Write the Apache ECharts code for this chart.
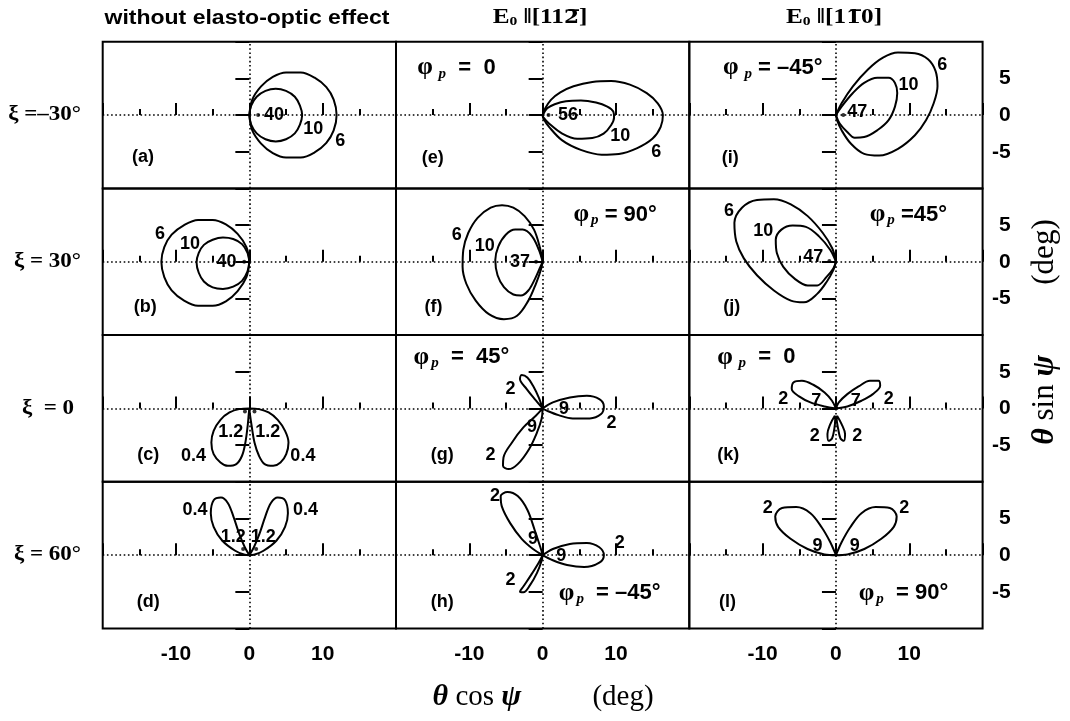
<!DOCTYPE html>
<html><head><meta charset="utf-8">
<script src="https://cdn.jsdelivr.net/npm/echarts@6/dist/echarts.min.js"></script>
<style>html,body{margin:0;padding:0;background:#fff}#c{width:1070px;height:721px}</style>
</head><body><div id="c"></div>
<script>
// ---------- texts ----------
const colHeaderPlain = 'without elasto-optic effect';
const rowLabels = ['ξ =–30°', 'ξ = 30°', 'ξ  = 0', 'ξ = 60°'];
const xTickValues = [-10, 0, 10];
const xTickText = ['-10', '0', '10'];
const yTickValues = [-5, 0, 5];
const yTickText = ['-5', '0', '5'];

// ---------- contour curves (data units, deg) ----------
const curveA6 = [[0,0],[0.4,2.1],[1.6,3.9],[3.2,5.2],[5.0,5.8],[7.0,5.8],[8.9,5.1],[10.5,3.8],[11.5,2.1],[11.9,0],[11.5,-2.1],[10.5,-3.8],[8.9,-5.1],[7.0,-5.8],[5.0,-5.8],[3.2,-5.2],[1.6,-3.9],[0.4,-2.1],[0,0]];
const curveA10 = [[0,0],[0.25,1.3],[1.0,2.5],[2.2,3.3],[3.6,3.6],[5.0,3.3],[6.2,2.5],[6.9,1.3],[7.2,0],[6.9,-1.3],[6.2,-2.5],[5.0,-3.3],[3.6,-3.6],[2.2,-3.3],[1.0,-2.5],[0.25,-1.3],[0,0]];
const curveB6 = [[0,0],[-0.4,2.0],[-1.6,3.8],[-3.2,5.1],[-5.0,5.7],[-7.0,5.7],[-8.9,5.0],[-10.6,3.7],[-11.6,2.0],[-12.0,0],[-11.6,-2.1],[-10.6,-3.9],[-8.9,-5.3],[-7.0,-6.0],[-5.0,-6.0],[-3.2,-5.4],[-1.6,-4.0],[-0.4,-2.1],[0,0]];
const curveB10 = [[0,0],[-0.25,1.2],[-1.0,2.4],[-2.2,3.1],[-3.6,3.3],[-5.0,3.0],[-6.2,2.3],[-6.9,1.2],[-7.2,-0.1],[-6.9,-1.5],[-6.2,-2.7],[-5.0,-3.5],[-3.6,-3.7],[-2.2,-3.4],[-1.0,-2.6],[-0.25,-1.3],[0,0]];
const curveC04L = [[0,0],[-1.39,-0.09],[-2.71,-0.55],[-3.94,-1.55],[-4.87,-3.05],[-5.18,-4.64],[-4.87,-6.23],[-3.94,-7.36],[-2.94,-7.82],[-1.78,-7.59],[-1.0,-6.45],[-0.54,-4.64],[-0.23,-2.36],[-0.08,-0.77],[0,0]];
const curveC04R = [[0,0],[1.31,-0.09],[2.63,-0.55],[3.87,-1.55],[4.87,-3.05],[5.34,-4.64],[5.03,-6.23],[4.25,-7.36],[3.25,-7.82],[2.09,-7.59],[1.31,-6.45],[0.7,-4.64],[0.31,-2.36],[0.08,-0.77],[0,0]];
const curveD04L = [[0,0],[-0.62,1.07],[-1.39,2.93],[-2.17,5.26],[-2.94,7.12],[-3.87,7.86],[-4.87,7.49],[-5.26,5.72],[-4.87,3.86],[-3.71,2.0],[-1.93,0.6],[-0.62,0.05],[0,0]];
const curveD04R = [[0,0],[0.62,1.07],[1.39,2.93],[2.17,5.26],[2.94,7.12],[3.87,7.86],[4.87,7.49],[5.26,5.72],[4.87,3.86],[3.71,2.0],[1.93,0.6],[0.62,0.05],[0,0]];
const curveE6 = [[0,0],[0.36,0.92],[1.13,2.07],[2.41,3.09],[4.21,3.92],[6.77,4.52],[9.33,4.65],[11.9,4.15],[14.2,3.0],[15.7,1.6],[16.4,0],[16.1,-1.6],[15.0,-3.2],[12.9,-4.5],[10.4,-5.3],[8.05,-5.4],[5.2,-4.75],[2.67,-3.46],[0.87,-1.6],[0.1,-0.46],[0,0]];
const curveE10 = [[0,0],[0.62,0.92],[1.64,1.47],[3.18,1.89],[5.23,1.98],[7.28,1.7],[8.82,1.15],[9.64,0.46],[9.74,-0.32],[9.33,-1.38],[8.31,-2.53],[6.77,-3.13],[4.72,-3.23],[2.67,-2.53],[0.87,-1.15],[0.1,-0.32],[0,0]];
const curveF6 = [[0,0],[-0.41,2.07],[-1.18,4.38],[-2.46,6.22],[-4.0,7.37],[-5.54,7.7],[-7.08,7.37],[-8.87,5.99],[-10.15,3.92],[-10.82,1.61],[-10.92,-0.69],[-10.41,-3.0],[-9.13,-5.3],[-7.33,-7.14],[-5.28,-7.83],[-3.49,-7.37],[-1.95,-5.3],[-0.92,-3.0],[-0.26,-1.15],[0,0]];
const curveF10 = [[0,0],[-0.51,1.61],[-1.44,3.46],[-2.72,4.38],[-3.74,4.38],[-5.03,3.69],[-6.05,2.07],[-6.46,0.23],[-6.15,-1.84],[-5.28,-3.46],[-4.0,-4.47],[-2.97,-4.61],[-1.95,-3.92],[-1.03,-2.3],[-0.41,-0.92],[0,0]];
const curveG2a = [[0,0],[-1.08,1.27],[-2.17,2.64],[-3.09,4.0],[-2.86,4.55],[-2.09,4.23],[-1.31,3.09],[-0.54,1.5],[0,0]];
const curveG2b = [[0,0],[1.39,0.82],[3.71,1.5],[6.03,1.73],[7.73,1.27],[8.35,0.27],[7.97,-0.77],[6.42,-1.36],[4.1,-1.36],[2.17,-0.91],[0.62,-0.32],[0,0]];
const curveG2c = [[0,0],[-0.93,-1.0],[-2.63,-2.59],[-4.18,-4.64],[-5.34,-6.68],[-5.41,-7.82],[-4.64,-8.27],[-3.4,-7.59],[-1.86,-5.55],[-0.77,-3.27],[-0.15,-1.45],[0,0]];
const curveH2a = [[0,0],[-1.31,0.84],[-2.86,2.23],[-4.41,4.33],[-5.57,6.65],[-5.72,8.05],[-4.8,8.6],[-3.4,8.05],[-2.09,6.19],[-1.08,3.4],[-0.31,1.07],[0,0]];
const curveH2b = [[0,0],[1.39,0.84],[3.71,1.53],[6.03,1.67],[7.73,1.07],[8.35,0],[7.73,-1.02],[5.65,-1.63],[3.33,-1.35],[1.39,-0.7],[0,0]];
const curveH2c = [[0,0],[-0.54,-1.02],[-1.55,-2.65],[-2.63,-4.28],[-3.09,-4.98],[-2.63,-5.07],[-1.7,-4.05],[-0.77,-2.42],[-0.15,-0.79],[0,0]];
const curveI6 = [[0,0],[0.77,1.61],[2.31,3.92],[4.36,6.22],[6.41,7.83],[8.46,8.53],[10.77,8.43],[12.56,7.6],[13.59,5.99],[13.85,3.92],[13.33,1.61],[12.3,-0.69],[10.77,-2.76],[8.46,-4.61],[5.9,-5.53],[3.85,-5.3],[2.05,-3.92],[0.77,-2.07],[0.15,-0.69],[0,0]];
const curveI10 = [[0,0],[0.77,1.15],[2.31,3.0],[3.85,4.38],[5.64,5.07],[7.18,5.07],[8.05,4.38],[8.36,3.0],[8.05,1.15],[7.18,-0.69],[5.64,-2.07],[3.85,-3.0],[2.56,-3.09],[1.54,-2.3],[0.51,-1.15],[0,0]];
const curveJ6 = [[0,0],[-0.51,1.84],[-1.79,3.92],[-3.85,6.22],[-6.15,7.83],[-8.46,8.53],[-10.77,8.43],[-12.82,7.37],[-13.85,5.3],[-13.59,2.76],[-12.56,0.46],[-10.77,-1.84],[-8.46,-3.92],[-6.15,-5.3],[-4.36,-5.53],[-2.56,-4.38],[-1.28,-2.76],[-0.36,-1.15],[0,0]];
const curveJ10 = [[0,0],[-0.77,1.61],[-2.31,3.46],[-4.1,4.75],[-5.9,4.93],[-7.44,4.38],[-8.21,3.0],[-8.05,1.15],[-7.18,-0.69],[-5.64,-2.3],[-3.85,-3.23],[-2.56,-3.23],[-1.28,-2.07],[-0.36,-0.92],[0,0]];
const curveK2a = [[0,0],[-1.55,0.27],[-3.48,0.82],[-5.03,1.64],[-6.03,2.64],[-5.8,3.55],[-4.64,3.77],[-3.09,3.23],[-1.55,2.18],[-0.54,1.05],[0,0]];
const curveK2b = [[0,0],[1.55,0.27],[3.48,1.05],[5.03,1.95],[6.03,3.09],[5.8,3.77],[4.64,3.77],[3.09,3.0],[1.55,1.95],[0.39,0.82],[0,0]];
const curveK2c = [[-0.15,-1.0],[-0.77,-2.14],[-1.16,-3.5],[-1.0,-4.41],[-0.54,-4.09],[-0.23,-2.82],[-0.1,-1.45],[-0.15,-1.0]];
const curveK2d = [[0.15,-1.0],[0.77,-2.14],[1.24,-3.5],[1.08,-4.41],[0.62,-4.09],[0.31,-2.82],[0.1,-1.45],[0.15,-1.0]];
const curveL2a = [[0,0],[-1.55,0.09],[-3.87,0.84],[-6.19,2.23],[-7.89,3.86],[-8.28,5.26],[-7.35,6.42],[-5.41,6.56],[-3.48,5.72],[-1.93,3.77],[-0.77,1.77],[-0.15,0.37],[0,0]];
const curveL2b = [[0,0],[1.55,0.09],[3.87,0.84],[6.19,2.23],[7.89,3.86],[8.28,5.26],[7.35,6.42],[5.41,6.56],[3.48,5.72],[1.93,3.77],[0.77,1.77],[0.15,0.37],[0,0]];

// ---------- maxima dots ----------
const dotsA = [[1.2,0]];
const dotsB = [[-0.7,0]];
const dotsC = [[-0.6,-0.4],[0.7,-0.4]];
const dotsD = [[-0.85,0.84],[0.93,0.84]];
const dotsE = [[0.8,0]];
const dotsF = [[-0.9,0]];
const dotsI = [[1.0,0]];
const dotsJ = [[-0.9,0.1]];

// ---------- contour value labels [x, y, text] ----------
const labelsA = [[3.35,0,'40'],[8.7,-1.9,'10'],[12.4,-3.5,'6'],[-14.5,-5.7,'(a)']];
const labelsB = [[-3.1,0,'40'],[-8.1,2.4,'10'],[-12.2,3.8,'6'],[-14.2,-6.2,'(b)']];
const labelsC = [[-2.55,-3.2,'1.2'],[2.5,-3.2,'1.2'],[-7.6,-6.45,'0.4'],[7.3,-6.45,'0.4'],[-13.8,-6.4,'(c)']];
const labelsD = [[-2.2,2.5,'1.2'],[1.9,2.5,'1.2'],[-7.4,6.2,'0.4'],[7.65,6.2,'0.4'],[-13.8,-6.4,'(d)']];
const labelsE = [[3.45,0,'56'],[10.6,-2.8,'10'],[15.5,-5.1,'6'],[-15.0,-5.8,'(e)']];
const labelsF = [[-3.1,-0.1,'37'],[-7.9,2.1,'10'],[-11.7,3.7,'6'],[-14.9,-6.2,'(f)']];
const labelsG = [[-4.4,2.7,'2'],[2.9,-0.1,'9'],[-1.45,-2.6,'9'],[9.4,-2.0,'2'],[-7.1,-6.4,'2'],[-13.7,-6.4,'(g)']];
const labelsH = [[-6.5,8.0,'2'],[-1.3,2.2,'9'],[2.55,-0.1,'9'],[10.5,1.7,'2'],[-4.4,-3.35,'2'],[-13.7,-6.4,'(h)']];
const labelsI = [[2.9,0.46,'47'],[9.9,4.15,'10'],[14.5,6.8,'6'],[-14.4,-5.8,'(i)']];
const labelsJ = [[-3.1,0.7,'47'],[-9.9,4.15,'10'],[-14.6,6.9,'6'],[-14.2,-6.2,'(j)']];
const labelsK = [[-7.2,1.27,'2'],[-2.7,1.05,'7'],[2.7,1.05,'7'],[7.2,1.27,'2'],[-2.9,-3.7,'2'],[2.9,-3.7,'2'],[-14.7,-6.4,'(k)']];
const labelsL = [[-9.3,6.4,'2'],[-2.5,1.3,'9'],[2.55,1.3,'9'],[9.3,6.4,'2'],[-14.8,-6.4,'(l)']];

// ---------- polarization angle annotations [x(left), y, subscript text, rest] ----------
const phiE = [-17.1, 6.45, ' p', '  =  0'];
const phiF = [4.2, 6.45, 'p', ' = 90°'];
const phiG = [-17.6, 7.0, 'p', '  =  45°'];
const phiH = [2.2, -5.2, 'p', '  = –45°'];
const phiI = [-15.4, 6.45, ' p', ' = –45°'];
const phiJ = [4.6, 6.45, 'p', ' =45°'];
const phiK = [-16.2, 7.0, ' p', '  =  0'];
const phiL = [3.1, -5.2, 'p', '  = 90°'];

// panels in column-major order (col, row)
const panels = [
  {curves:[curveA6, curveA10], dots:dotsA, labels:labelsA, phi:null},
  {curves:[curveB6, curveB10], dots:dotsB, labels:labelsB, phi:null},
  {curves:[curveC04L, curveC04R], dots:dotsC, labels:labelsC, phi:null},
  {curves:[curveD04L, curveD04R], dots:dotsD, labels:labelsD, phi:null},
  {curves:[curveE6, curveE10], dots:dotsE, labels:labelsE, phi:phiE},
  {curves:[curveF6, curveF10], dots:dotsF, labels:labelsF, phi:phiF},
  {curves:[curveG2a, curveG2b, curveG2c], dots:[], labels:labelsG, phi:phiG},
  {curves:[curveH2a, curveH2b, curveH2c], dots:[], labels:labelsH, phi:phiH},
  {curves:[curveI6, curveI10], dots:dotsI, labels:labelsI, phi:phiI},
  {curves:[curveJ6, curveJ10], dots:dotsJ, labels:labelsJ, phi:phiJ},
  {curves:[curveK2a, curveK2b, curveK2c, curveK2d], dots:[], labels:labelsK, phi:phiK},
  {curves:[curveL2a, curveL2b], dots:[], labels:labelsL, phi:phiL}
];

// ---------- layout ----------
const GL = [102.7, 396, 689.3], GT = [41.7, 188.4, 335.1, 481.8], GW = 293.3, GH = 146.7;
const SANS = 'Liberation Sans', SERIF = 'Liberation Serif';
const plain = {textBorderWidth: 0, textShadowBlur: 0, opacity: 1};

const grids = [], xAxes = [], yAxes = [], series = [];
panels.forEach((p, k) => {
  const col = Math.floor(k / 4), row = k % 4;
  grids.push({left: GL[col], top: GT[row], width: GW, height: GH, show: true,
    borderColor: '#000', borderWidth: 2, backgroundColor: 'transparent'});
  xAxes.push({gridIndex: k, type: 'value', min: -20, max: 20, interval: 10,
    axisLine: {show: false}, splitLine: {show: false},
    axisTick: {show: true, inside: true, length: 12, lineStyle: {color: '#000', width: 2}},
    minorTick: {show: true, splitNumber: 2, length: 6, lineStyle: {color: '#000', width: 2}},
    axisLabel: {show: row === 3, margin: 15, color: '#000', fontFamily: SANS, fontWeight: 'bold', fontSize: 21,
      formatter: v => { const i = xTickValues.indexOf(v); return i < 0 ? '' : xTickText[i]; }}
  });
  yAxes.push({gridIndex: k, type: 'value', position: 'right', min: -10, max: 10, interval: 5,
    axisLine: {show: false}, splitLine: {show: false},
    axisTick: {show: true, inside: true, length: 14, lineStyle: {color: '#000', width: 2}},
    axisLabel: {show: col === 2, margin: 28, align: 'right', color: '#000', fontFamily: SANS, fontWeight: 'bold', fontSize: 21,
      formatter: v => { const i = yTickValues.indexOf(v); return i < 0 ? '' : yTickText[i]; }}
  });
  p.curves.forEach((c, ci) => {
    const s = {type: 'line', xAxisIndex: k, yAxisIndex: k, data: c, smooth: 0.35, symbol: 'none',
      lineStyle: {color: '#000', width: 2}, silent: true, clip: false, z: 3};
    if (ci === 0) {
      s.markLine = {silent: true, symbol: 'none', label: {show: false},
        lineStyle: {color: '#000', width: 1.6, type: [1.6, 2.6]},
        data: [{xAxis: 0}, {yAxis: 0}]};
    }
    series.push(s);
  });
  if (p.dots.length) {
    series.push({type: 'scatter', xAxisIndex: k, yAxisIndex: k, data: p.dots, symbolSize: 4,
      itemStyle: {color: '#000'}, silent: true, z: 4});
  }
  series.push({type: 'scatter', xAxisIndex: k, yAxisIndex: k,
    data: p.labels.map(l => ({value: [l[0], l[1]], name: l[2]})),
    symbolSize: 0, itemStyle: {color: '#000'}, silent: true, z: 5,
    label: Object.assign({show: true, position: 'inside', formatter: '{b}', color: '#000',
      fontFamily: SANS, fontWeight: 'bold', fontSize: 18}, plain)});
  if (p.phi) {
    const sub = p.phi[2], rest = p.phi[3];
    series.push({type: 'scatter', xAxisIndex: k, yAxisIndex: k,
      data: [{value: [p.phi[0], p.phi[1]], name: rest}],
      symbolSize: 0, itemStyle: {color: '#000'}, silent: true, z: 5,
      label: Object.assign({show: true, position: 'right', distance: 0, color: '#000',
        formatter: pp => '{f|φ}{s|' + sub + '}{t|' + pp.name + '}',
        rich: {
          f: Object.assign({fontFamily: SERIF, fontSize: 25, fontWeight: 'bold', color: '#000'}, plain),
          s: Object.assign({fontFamily: SERIF, fontSize: 15, fontStyle: 'italic', fontWeight: 'bold', color: '#000', padding: [12, 0, 0, 2]}, plain),
          t: Object.assign({fontFamily: SANS, fontSize: 22, fontWeight: 'bold', color: '#000'}, plain)
        }}, plain)
    });
  }
});

// ---------- text graphics ----------
const graphics = [];
graphics.push({type: 'text', x: 247, y: 18, scaleX: 1.15, style: {text: colHeaderPlain, fontFamily: SANS, fontWeight: 'bold',
  fontSize: 20, fill: '#000', align: 'center', verticalAlign: 'middle'}});
const eRich = {
  E: {fontFamily: SERIF, fontWeight: 'bold', fontSize: 21, fill: '#000'},
  z: {fontFamily: SERIF, fontWeight: 'bold', fontSize: 13, fill: '#000', padding: [8, 0, 0, 0]},
  t: {fontFamily: SERIF, fontWeight: 'bold', fontSize: 21, fill: '#000'},
  o: {fontFamily: 'DejaVu Serif', fontWeight: 'bold', fontSize: 18, fill: '#000'}
};
graphics.push({type: 'text', x: 540, y: 18, scaleX: 1.2, style: {text: '{E|E}{z|0}{t| ‖[11}{o|2\u0305}{t|]}', rich: eRich,
  align: 'center', verticalAlign: 'middle'}});
graphics.push({type: 'text', x: 834, y: 18, scaleX: 1.2, style: {text: '{E|E}{z|0}{t| ‖[1}{o|1\u0305}{t|0]}', rich: eRich,
  align: 'center', verticalAlign: 'middle'}});
const rowX = [81, 81, 74, 81];
rowLabels.forEach((t, r) => {
  graphics.push({type: 'text', x: rowX[r], y: GT[r] + GH / 2, scaleX: 1.15, style: {text: t, fontFamily: SERIF, fontWeight: 'bold',
    fontSize: 20, fill: '#000', align: 'right', verticalAlign: 'middle'}});
});
const tRich = {
  g: {fontFamily: SERIF, fontWeight: 'bold', fontStyle: 'italic', fontSize: 30, fill: '#000'},
  n: {fontFamily: SERIF, fontSize: 29, fill: '#000'}
};
const vRich = {
  g: {fontFamily: SERIF, fontWeight: 'bold', fontStyle: 'italic', fontSize: 32, fill: '#000'},
  n: {fontFamily: SERIF, fontSize: 31, fill: '#000'}
};
graphics.push({type: 'text', x: 477, y: 697, style: {text: '{g|θ}{n| cos }{g|ψ}', rich: tRich, align: 'center', verticalAlign: 'middle'}});
graphics.push({type: 'text', x: 623, y: 697, style: {text: '{n|(deg)}', rich: tRich, align: 'center', verticalAlign: 'middle'}});
graphics.push({type: 'text', x: 1045, y: 400, rotation: Math.PI / 2, style: {text: '{g|θ}{n| sin }{g|ψ}', rich: vRich, align: 'center', verticalAlign: 'middle'}});
graphics.push({type: 'text', x: 1045, y: 252, rotation: Math.PI / 2, style: {text: '{n|(deg)}', rich: vRich, align: 'center', verticalAlign: 'middle'}});

const chart = echarts.init(document.getElementById('c'), null, {renderer: 'canvas'});
chart.setOption({
  animation: false,
  backgroundColor: '#fff',
  grid: grids, xAxis: xAxes, yAxis: yAxes, series: series, graphic: graphics
});
</script></body></html>
